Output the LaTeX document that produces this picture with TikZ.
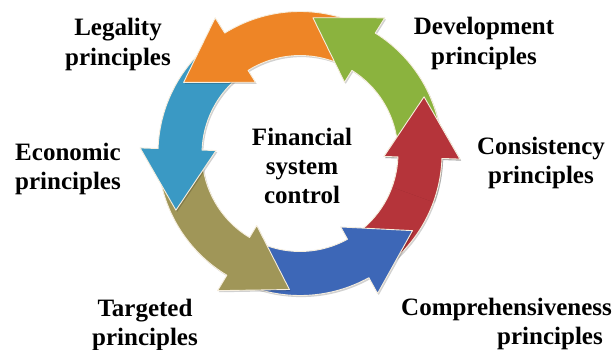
\documentclass[tikz,border=0pt]{standalone}
\usepackage{fontspec}
\setmainfont{Liberation Serif}
\usetikzlibrary{calc}
\definecolor{cOrange}{RGB}{238,133,38}
\definecolor{cGreen}{RGB}{139,179,62}
\definecolor{cRed}{RGB}{181,52,58}
\definecolor{cDBlue}{RGB}{61,103,183}
\definecolor{cOlive}{RGB}{160,150,88}
\definecolor{cLBlue}{RGB}{58,153,196}
\definecolor{edgec}{RGB}{246,238,222}
\newcommand\cyclearrow[3]{% #1 colour, #2 head angle, #3 tail angle
  \path[arr=#1] ([shift={(C)}]#3:142) arc[start angle=#3,end angle=#2,radius=142]
    -- ([shift={(C)}]#2:160)
    -- ($([shift={(C)}]#2:122)+({#2+90}:61)$)
    -- ([shift={(C)}]#2:84)
    -- ([shift={(C)}]#2:98)
    arc[start angle=#2,end angle=#3,radius=98] -- cycle;}
\begin{document}
\begin{tikzpicture}[x=1pt,y=1pt,
  lbl/.style={font=\bfseries\fontsize{25}{29}\selectfont, align=center, inner sep=0pt, anchor=base},
  arr/.style={fill=#1, draw=edgec, line width=0.9pt, line join=round,
    preaction={fill=black, opacity=0.18, transform canvas={xshift=1.2pt,yshift=-1.6pt}}}]
\useasboundingbox (0,0) rectangle (615,349);
\fill[white] (0,0) rectangle (615,349);
\coordinate (C) at (300,195.5);
% arrows: each head lies over the tail of the next arrow
\cyclearrow{cRed}{-2}{-53}
\cyclearrow{cDBlue}{299}{247}
\cyclearrow{cOlive}{239}{186}
\cyclearrow{cLBlue}{178}{130}
\cyclearrow{cOrange}{122}{66}
\cyclearrow{cGreen}{58}{6}
\begin{scope}
  \clip (C) -- ([shift={(C)}]-20:260) -- ([shift={(C)}]40:260) -- cycle;
  \cyclearrow{cRed}{-2}{-53}
\end{scope}
% labels (base = baseline of the last line)
\node[lbl] (ctr) at (302,146) {Financial\\system\\control};
\node[lbl] (leg) at (118,284) {Legality\\principles};
\node[lbl] (dev) at (484,285) {Development\\principles};
\node[lbl] (eco) at (68,160) {Economic\\principles};
\node[lbl] (con) at (541,166) {Consistency\\principles};
\node[lbl] (tar) at (145,4) {Targeted\\principles};
\node[lbl, anchor=base west, align=left] (com) at (401,5) {Comprehensiveness\\\hspace*{96pt}principles};
\end{tikzpicture}
\end{document}
